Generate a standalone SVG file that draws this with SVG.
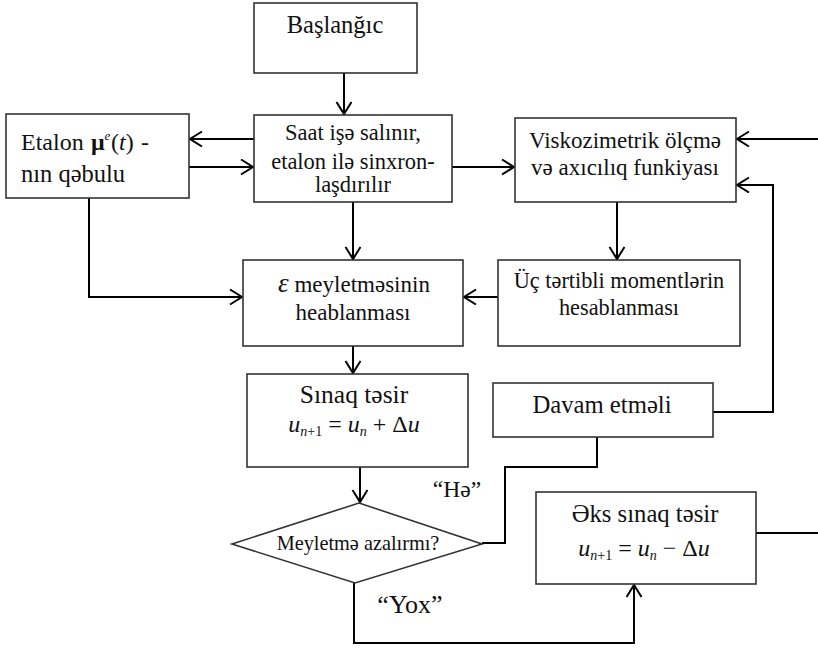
<svg xmlns="http://www.w3.org/2000/svg" width="818" height="649" viewBox="0 0 818 649">
<style>
.box{fill:#fff;stroke:#333;stroke-width:1.6}
text{font-family:'Liberation Serif','Times New Roman',serif;fill:#111;text-anchor:middle}
.c{fill:none;stroke:#000;stroke-width:2}
.i{font-style:italic}
.s{font-size:14px}
</style>
<defs>
<marker id="ar" markerUnits="userSpaceOnUse" markerWidth="16" markerHeight="18" refX="13" refY="8" orient="auto">
<path d="M1,0.5 L13,8 L1,15.5" fill="none" stroke="#000" stroke-width="2"/>
</marker>
</defs>
<rect width="818" height="649" fill="#fff"/>
<g id="connectors">
<path class="c" d="M344,73 V114" marker-end="url(#ar)"/>
<path class="c" d="M254,139 H190" marker-end="url(#ar)"/>
<path class="c" d="M189,167 H253" marker-end="url(#ar)"/>
<path class="c" d="M452,167 H514" marker-end="url(#ar)"/>
<path class="c" d="M818,139 H737" marker-end="url(#ar)"/>
<path class="c" d="M713,412 H773 V185 H737" marker-end="url(#ar)"/>
<path class="c" d="M617,202 V259" marker-end="url(#ar)"/>
<path class="c" d="M498,297 H464" marker-end="url(#ar)"/>
<path class="c" d="M353,202 V259" marker-end="url(#ar)"/>
<path class="c" d="M89,198 V297 H242" marker-end="url(#ar)"/>
<path class="c" d="M353,346 V373" marker-end="url(#ar)"/>
<path class="c" d="M360,467 V502" marker-end="url(#ar)"/>
<path class="c" d="M482,543 H505 V467 H597 V437"/>
<path class="c" d="M354,583 V643 H634 V585" marker-end="url(#ar)"/>
<path class="c" d="M756,533 H818"/>
</g>
<g id="start">
<rect class="box" x="254" y="3" width="163" height="70"/>
<text x="335" y="33" font-size="24.5">Başlanğıc</text>
</g>
<g id="saat">
<rect class="box" x="254" y="115" width="198" height="87"/>
<text x="353" y="140" font-size="22.5">Saat işə salınır,</text>
<text x="353" y="169" font-size="22.5">etalon ilə sinxron-</text>
<text x="353" y="192" font-size="22.5">laşdırılır</text>
</g>
<g id="etalon">
<rect class="box" x="6" y="114" width="183" height="84"/>
<text x="21" y="150" font-size="24" style="text-anchor:start">Etalon <tspan x="91" font-weight="bold">μ</tspan><tspan class="i" font-size="13" dy="-10">e</tspan><tspan x="111" dy="10">(</tspan><tspan class="i">t</tspan>)<tspan x="141">-</tspan></text>
<text x="21" y="182" font-size="24.5" style="text-anchor:start">nın qəbulu</text>
</g>
<g id="visk">
<rect class="box" x="515" y="118" width="221" height="84"/>
<text x="625" y="148" font-size="23">Viskozimetrik ölçmə</text>
<text x="625" y="175" font-size="23">və axıcılıq funkiyası</text>
</g>
<g id="uc">
<rect class="box" x="498" y="260" width="242" height="86"/>
<text x="619" y="288" font-size="22.3">Üç tərtibli momentlərin</text>
<text x="619" y="315" font-size="22.3">hesablanması</text>
</g>
<g id="eps">
<rect class="box" x="243" y="260" width="220" height="86"/>
<text x="354" y="292" font-size="23"><tspan class="i" font-size="27">ε</tspan> meyletməsinin</text>
<text x="353" y="320" font-size="23">heablanması</text>
</g>
<g id="sinaq">
<rect class="box" x="247" y="374" width="221" height="93"/>
<text x="354" y="403" font-size="25.5">Sınaq təsir</text>
<text x="354" y="432" font-size="24"><tspan class="i">u</tspan><tspan class="s" dy="4"><tspan class="i">n</tspan>+1</tspan><tspan dy="-4"> = </tspan><tspan class="i">u</tspan><tspan class="i s" dy="4">n</tspan><tspan dy="-4"> + Δ</tspan><tspan class="i">u</tspan></text>
</g>
<g id="davam">
<rect class="box" x="493" y="383" width="220" height="54"/>
<text x="602" y="413" font-size="24.7">Davam etməli</text>
</g>
<g id="decision">
<polygon class="box" points="359,503 482,544 355,583 232,544"/>
<text x="358" y="550" font-size="20.3">Meyletmə azalırmı?</text>
</g>
<g id="eks">
<rect class="box" x="536" y="492" width="220" height="92"/>
<text x="645" y="522" font-size="24.7">Əks sınaq təsir</text>
<text x="644" y="556" font-size="24"><tspan class="i">u</tspan><tspan class="s" dy="4"><tspan class="i">n</tspan>+1</tspan><tspan dy="-4"> = </tspan><tspan class="i">u</tspan><tspan class="i s" dy="4">n</tspan><tspan dy="-4"> − Δ</tspan><tspan class="i">u</tspan></text>
</g>
<g id="labels">
<text x="457" y="497" font-size="23.5">“Hə”</text>
<text x="410" y="613" font-size="26">“Yox”</text>
</g>
</svg>
